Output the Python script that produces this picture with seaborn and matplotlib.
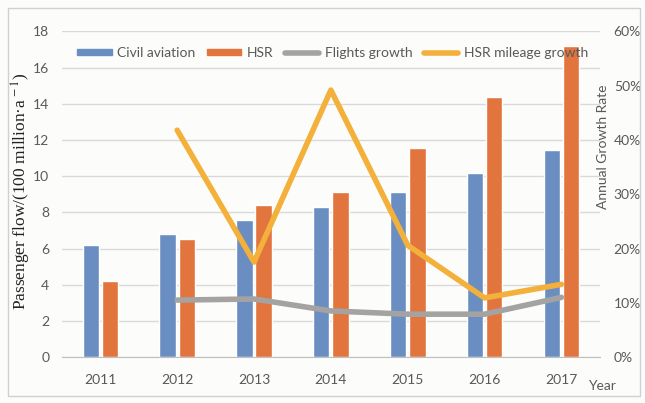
import pandas as pd
import matplotlib
matplotlib.use("Agg")
import matplotlib.pyplot as plt
import seaborn as sns
from matplotlib.patches import Patch, Rectangle
from matplotlib.lines import Line2D
from matplotlib.ticker import PercentFormatter

# data
years = ["2011", "2012", "2013", "2014", "2015", "2016", "2017"]
civil_aviation = [6.2, 6.8, 7.55, 8.3, 9.15, 10.15, 11.45]
hsr = [4.2, 6.5, 8.4, 9.1, 11.55, 14.4, 17.2]
growth_years = ["2012", "2013", "2014", "2015", "2016", "2017"]
flights_growth = [10.5, 10.7, 8.5, 7.9, 7.9, 11.0]
hsr_mileage_growth = [41.8, 17.5, 49.2, 20.6, 10.9, 13.4]

BLUE = "#6a8ec2"
ORANGE = "#e2743e"
GRAY = "#a5a3a2"
YELLOW = "#f3b03a"
TXT = "#595959"

sns.set_style("white")
plt.rcParams["font.family"] = ["Lato", "DejaVu Sans"]
plt.rcParams["mathtext.fontset"] = "stix"

bars = pd.DataFrame({
    "Year": years * 2,
    "value": civil_aviation + hsr,
    "series": ["Civil aviation"] * len(years) + ["HSR"] * len(years),
})
lines = pd.DataFrame({
    "pos": [years.index(y) for y in growth_years] * 2,
    "rate": flights_growth + hsr_mileage_growth,
    "series": ["Flights growth"] * len(growth_years) + ["HSR mileage growth"] * len(growth_years),
})

fig = plt.figure(figsize=(6.45, 4.03), dpi=100, facecolor="#fcfcfa")
ax = fig.add_axes([0.096, 0.114, 0.834, 0.808])
ax.set_facecolor("#fcfcfa")

sns.barplot(data=bars, x="Year", y="value", hue="series", order=years,
            palette=[BLUE, ORANGE], saturation=1, width=0.5, gap=0.15,
            ax=ax, legend=False)
ax.set_xlim(-0.5, 6.5)
ax.set_ylim(0, 18)
ax.set_yticks(range(0, 19, 2))
ax.yaxis.grid(True, color="#d9d9d9", lw=1)
ax.set_axisbelow(True)
for s in ["top", "right", "left"]:
    ax.spines[s].set_visible(False)
ax.spines["bottom"].set_color("#bfbfbf")
ax.tick_params(axis="both", length=0, labelsize=10, colors=TXT)
ax.tick_params(axis="x", pad=12)
ax.tick_params(axis="y", pad=9)
ax.set_xlabel("")
ax.set_ylabel("")
fig.text(0.033, 0.525, "Passenger flow/(100 million·a$^{\\,-1}$)", rotation=90,
         ha="center", va="center", family="Liberation Serif", fontsize=12.5,
         color="#222222")

ax2 = ax.twinx()
sns.lineplot(data=lines, x="pos", y="rate", hue="series", palette=[GRAY, YELLOW],
             lw=4, ax=ax2, legend=False)
ax2.set_ylim(0, 60)
ax2.set_yticks(range(0, 61, 10))
ax2.yaxis.set_major_formatter(PercentFormatter(decimals=0))
for s in ax2.spines.values():
    s.set_visible(False)
ax2.tick_params(axis="y", length=0, labelsize=10, colors=TXT, pad=10)
ax2.set_ylabel("")
ax2.set_xlabel("")

fig.text(0.935, 0.635, "Annual Growth Rate", rotation=90, ha="center", va="center",
         fontsize=10, color=TXT)
fig.text(0.933, 0.042, "Year", ha="center", va="center", fontsize=10, color=TXT)

handles = [
    Patch(color=BLUE, label="Civil aviation"),
    Patch(color=ORANGE, label="HSR"),
    Line2D([], [], color=GRAY, lw=4, label="Flights growth"),
    Line2D([], [], color=YELLOW, lw=4, label="HSR mileage growth"),
]
ax2.legend(handles=handles, loc="upper left", bbox_to_anchor=(0.005, 0.99), ncol=4,
           frameon=False, fontsize=10, handlelength=2.5, handleheight=0.3,
           handletextpad=0.4, columnspacing=0.8, labelcolor=TXT)

fig.patches.append(Rectangle((0.012, 0.018), 0.98, 0.962, transform=fig.transFigure,
                             fill=False, edgecolor="#d0d0d0", lw=1))

fig.savefig("out.png", dpi=100, facecolor=fig.get_facecolor())
